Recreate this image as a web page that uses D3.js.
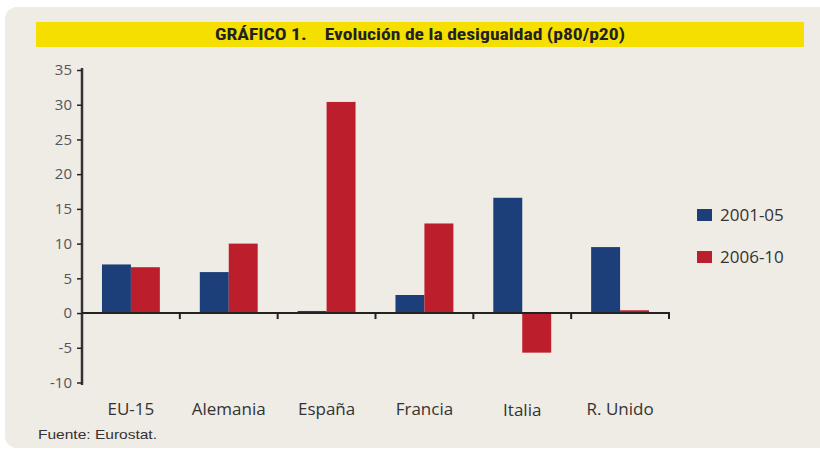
<!DOCTYPE html>
<html><head><meta charset="utf-8">
<script src="https://cdn.jsdelivr.net/npm/d3@7"></script>
<style>body{margin:0;background:#fff}svg{display:block}</style>
</head><body>
<script>
const categories = ["EU-15","Alemania","España","Francia","Italia","R. Unido"];
const seriesNames = ["2001-05","2006-10"];
const values2001_05 = [7.0, 5.9, 0.3, 2.6, 16.6, 9.5];
const values2006_10 = [6.6, 10.0, 30.4, 12.9, -5.7, 0.4];
const yTicks = [-10,-5,0,5,10,15,20,25,30,35];
const colors = ["#1d3f79","#bd1e2c"];
const title = "GRÁFICO 1.    Evolución de la desigualdad (p80/p20)";
const source = "Fuente: Eurostat.";

const W = 820, H = 451;
const svg = d3.select("body").append("svg").attr("width", W).attr("height", H);

svg.append("rect").attr("x",5).attr("y",7).attr("width",840).attr("height",441)
  .attr("rx",12).attr("fill","#efebe5");

svg.append("rect").attr("x",36).attr("y",22).attr("width",768).attr("height",25).attr("fill","#f4df00");
svg.append("text").attr("x",420).attr("y",40).attr("text-anchor","middle")
  .attr("font-family","'Liberation Sans Narrow','Roboto Condensed','Liberation Sans',sans-serif")
  .attr("font-weight","bold").attr("font-size",16).attr("fill","#222")
  .attr("textLength",410).attr("lengthAdjust","spacingAndGlyphs")
  .style("white-space","pre")
  .text(title);

const y = d3.scaleLinear().domain([-10,35]).range([382.5,70]);
const x0 = d3.scaleBand().domain(categories).range([82,669]).paddingInner(0).paddingOuter(0);
const x1 = d3.scaleBand().domain(seriesNames).range([0,x0.bandwidth()]).paddingInner(0).paddingOuter(0.69);

const data = categories.map((c,i)=>({cat:c, vals:[values2001_05[i], values2006_10[i]]}));

const g = svg.append("g");
g.selectAll("g.grp").data(data).join("g").attr("class","grp")
  .attr("transform", d=>`translate(${x0(d.cat)},0)`)
  .selectAll("rect").data(d=>d.vals.map((v,j)=>({v,j})))
  .join("rect")
  .attr("x", d=>x1(seriesNames[d.j]))
  .attr("width", x1.bandwidth())
  .attr("y", d=>y(Math.max(0,d.v)))
  .attr("height", d=>Math.abs(y(d.v)-y(0)))
  .attr("fill", d=>colors[d.j]);

// Y axis
const yAxis = d3.axisLeft(y).tickValues(yTicks).tickSize(5).tickPadding(5).tickFormat(d=>String(d));
const ya = svg.append("g").attr("transform","translate(82,0)").call(yAxis);
ya.select(".domain").attr("d","M0,68V385").attr("stroke","#333").attr("stroke-width",2.5);
ya.selectAll(".tick line").attr("stroke","#222").attr("stroke-width",1.5);
ya.selectAll(".tick text").attr("font-family","'Open Sans',sans-serif").attr("font-size",15).attr("fill","#555");

// X axis at zero
const xAxis = d3.axisBottom(x0).tickSize(0).tickFormat("");
const xa = svg.append("g").attr("transform",`translate(0,${y(0)})`).call(xAxis);
xa.select(".domain").attr("d","M82,0H670").attr("stroke","#222").attr("stroke-width",2);
xa.selectAll(".sep").data(categories).join("line").attr("class","sep")
  .attr("x1",d=>x0(d)+x0.bandwidth()).attr("x2",d=>x0(d)+x0.bandwidth())
  .attr("y1",0).attr("y2",6).attr("stroke","#222").attr("stroke-width",2);

// Category labels
svg.append("g").selectAll("text").data(categories).join("text")
  .attr("x", d=>x0(d)+x0.bandwidth()/2)
  .attr("y", d=> d==="Italia" ? 416 : 415)
  .attr("text-anchor","middle")
  .attr("font-family","'Open Sans',sans-serif").attr("font-size",17).attr("fill","#333")
  .text(d=>d);

// Legend
const lg = svg.append("g").selectAll("g").data(seriesNames).join("g")
  .attr("transform",(d,i)=>`translate(697,${215+i*42})`);
lg.append("rect").attr("x",0).attr("y",-6).attr("width",15).attr("height",12).attr("fill",(d,i)=>colors[i]);
lg.append("text").attr("x",23).attr("y",6).attr("font-family","'Open Sans',sans-serif")
  .attr("font-size",17).attr("fill","#333").text(d=>d);

svg.append("text").attr("x",38).attr("y",439)
  .attr("font-family","'Liberation Sans Narrow','Liberation Sans',sans-serif").attr("font-size",13).attr("fill","#333")
  .attr("textLength",119).attr("lengthAdjust","spacingAndGlyphs")
  .text(source);
</script>
</body></html>
